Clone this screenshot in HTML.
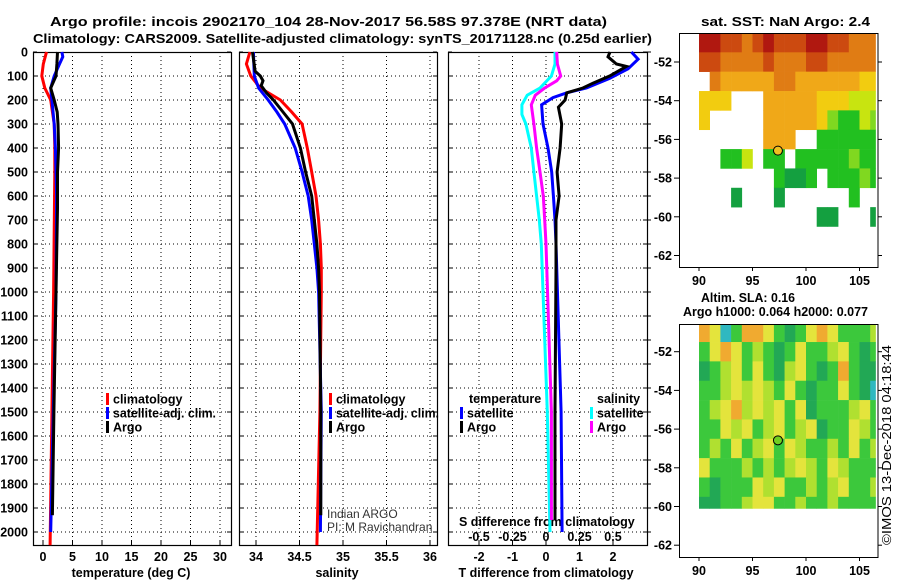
<!DOCTYPE html>
<html><head><meta charset="utf-8">
<style>
html,body{margin:0;padding:0;background:#fff;}
svg{display:block;font-family:"Liberation Sans",sans-serif;}
.b{font-weight:bold;font-size:12.5px;}
</style></head>
<body>
<svg id="c" width="900" height="580" viewBox="0 0 900 580">
<text class="b" x="50" y="26" font-size="15" textLength="557" lengthAdjust="spacingAndGlyphs">Argo profile: incois 2902170_104 28-Nov-2017 56.58S 97.378E (NRT data)</text>
<text class="b" x="33" y="43" font-size="15" textLength="619" lengthAdjust="spacingAndGlyphs">Climatology: CARS2009. Satellite-adjusted climatology: synTS_20171128.nc (0.25d earlier)</text>
<text class="b" x="701" y="26" font-size="13.5" textLength="169" lengthAdjust="spacingAndGlyphs">sat. SST: NaN Argo: 2.4</text>
<text class="b" x="701" y="302" textLength="94" lengthAdjust="spacingAndGlyphs">Altim. SLA: 0.16</text>
<text class="b" x="683" y="316" textLength="185" lengthAdjust="spacingAndGlyphs">Argo h1000: 0.064 h2000: 0.077</text>
<text x="891" y="545" font-size="13" textLength="200" lengthAdjust="spacingAndGlyphs" transform="rotate(-90 891 545)">©IMOS 13-Dec-2018 04:18:44</text>
</svg>
<script>
// ---------- data ----------
const depthTicks=[0,100,200,300,400,500,600,700,800,900,1000,1100,1200,1300,1400,1500,1600,1700,1800,1900,2000];
const tempTicks=[0,5,10,15,20,25,30];
const salTicks=[34,34.5,35,35.5,36];
const tdiffTicks=[-2,-1,0,1,2];
const sdiffTicks=[-0.5,-0.25,0,0.25,0.5];
const sdiffTickLabels=["-0.5","-0.25","0","0.25","0.5"];

const tClimDepth=[0,50,100,150,200,300,400,500,1000,1500,2055];
const tClimVal=[0.6,0.05,-0.2,0.3,1.3,1.9,2.0,2.0,1.8,1.5,1.2];
const tSatDepth=[0,20,50,100,150,200,300,400,600,1000,1500,2000];
const tSatVal=[3.2,3.35,2.8,1.9,1.3,1.5,1.9,2.1,2.3,2.2,1.75,1.3];
const tArgoDepth=[0,50,100,150,200,250,300,400,500,650,1000,1500,1930];
const tArgoVal=[2.45,2.35,2.2,1.3,1.9,2.4,2.55,2.65,2.45,2.45,2.2,1.85,1.6];

const sClimDepth=[0,50,100,150,200,250,300,400,500,600,700,800,900,1000,1500,2055];
const sClimVal=[33.93,33.89,33.94,34.05,34.28,34.41,34.53,34.59,34.64,34.69,34.72,34.74,34.75,34.75,34.735,34.70];
const sSatDepth=[0,100,150,200,250,300,400,500,600,700,800,900,1000,1500,2000];
const sSatVal=[33.97,33.98,34.03,34.14,34.24,34.33,34.45,34.53,34.60,34.64,34.67,34.70,34.72,34.75,34.74];
const sArgoDepth=[0,80,100,120,140,170,200,250,300,400,500,600,700,800,900,1000,1500,1930];
const sArgoVal=[33.96,33.99,34.05,34.08,34.06,34.12,34.20,34.31,34.42,34.51,34.57,34.64,34.67,34.70,34.72,34.73,34.745,34.745];

const dTArgoDepth=[0,20,50,60,100,130,150,170,200,230,300,400,500,600,700,900,1500,1950];
const dTArgoVal=[1.91,1.85,2.1,2.4,1.9,1.4,1.1,0.62,0.57,0.37,0.47,0.42,0.33,0.39,0.30,0.30,0.27,0.27];
const dTSatDepth=[0,30,70,110,150,170,190,220,300,400,500,600,700,800,1500,2000];
const dTSatVal=[2.55,2.75,2.45,1.9,1.21,0.62,0.21,-0.13,-0.09,0.06,0.17,0.22,0.27,0.30,0.45,0.48];
const dSArgoDepth=[0,50,100,120,150,180,220,300,400,500,600,700,800,1500,1950];
const dSArgoVal=[0.08,0.085,0.11,0.08,-0.01,-0.08,-0.11,-0.09,-0.07,-0.045,-0.02,-0.01,0,0.04,0.04];
const dSSatDepth=[0,50,100,150,180,220,260,300,400,500,600,700,800,1500,2000];
const dSSatVal=[0.067,0.067,0.04,-0.045,-0.14,-0.18,-0.18,-0.15,-0.11,-0.09,-0.07,-0.05,-0.035,0.01,0.03];

const mapLonTicks=[90,95,100,105];
const mapLatTicks=[-52,-54,-56,-58,-60,-62];
const argoLon=97.378, argoLat=-56.58;
const sstColors=["none","#b01810","#cc4a10","#e07c14","#f0a818","#f2cc10","#c8e410","#80d820","#22c020","#14a040"];
const sstRows=["11223212221122333","22333323332233333","03444443344444455","55500044444555666","50000044444578867","00000044400888888","00886088088888788","00000008998088878","00090009000000800","00000000000990009"];
const slaColors={G:"#3cc83c",D:"#22a855",L:"#b0e030",Y:"#e4e43c",O:"#f0aa30",C:"#30b8c0"};
const slaRows=["OYCGOOYGDGYOYGGGL","GYOYGLGDGYGGLYGDG","DGLYGYGDLYGDGOGDD","GGLYLYLGYGDGGYGDC","GLYOLYLYGYDGGGLYG","GGYLYGLYGLYDGGYLG","GLGYGLYGYLGGLGYGL","YGGGLGLGLYLGYLGGG","GDGGGYLYGGLGLYGGL","DDGGLYYGGLGGLGGGG"];

// ---------- helpers ----------
const svg=document.getElementById('c');
const NS="http://www.w3.org/2000/svg";
function mk(tag,attrs,parent){const e=document.createElementNS(NS,tag);for(const k in attrs)e.setAttribute(k,attrs[k]);(parent||svg).appendChild(e);return e;}
function txt(x,y,s,cls,anchor,parent){const t=mk('text',{x:x,y:y,'text-anchor':anchor||'start'},parent);if(cls)t.setAttribute('class',cls);t.textContent=s;return t;}
const TOP=52,BOT=545;
const yD=d=>TOP+d*0.24;
const xT=t=>43+t*5.9;
const xS=s=>256+(s-34)*87;
const xDT=v=>546+v*33.5;
const xDS=v=>546+v*134;
const panels=[{l:33,r:231,name:'temperature-panel'},{l:239,r:437,name:'salinity-panel'},{l:448,r:647,name:'difference-panel'}];

panels.forEach((p,i)=>{
  const g=mk('g',{});
  
  
  depthTicks.forEach(d=>{if(d>0){const ln=mk('line',{x1:p.l,x2:p.r,y1:yD(d),y2:yD(d),stroke:'#000','stroke-dasharray':'1,3','stroke-width':1},g);
    }
    mk('line',{x1:p.r-4,x2:p.r,y1:yD(d),y2:yD(d),stroke:'#000'},g);
    mk('line',{x1:p.l,x2:p.l+4,y1:yD(d),y2:yD(d),stroke:'#000'},g);});
  const ticks=i===0?tempTicks.map(xT):i===1?salTicks.map(xS):tdiffTicks.map(xDT);
  ticks.forEach(x=>{const ln=mk('line',{x1:x,x2:x,y1:TOP,y2:BOT,stroke:'#000','stroke-dasharray':'1,3'},g);
    
    mk('line',{x1:x,x2:x,y1:BOT-4,y2:BOT,stroke:'#000'},g);});
  const fr=mk('rect',{x:p.l+0.5,y:TOP+0.5,width:p.r-p.l,height:BOT-TOP,fill:'none',stroke:'#000','stroke-width':1.2},g);
  
});
depthTicks.forEach(d=>{const t=txt(28,yD(d)+4.5,String(d),'b','end');
  });
tempTicks.forEach(v=>{const t=txt(xT(v),561,String(v),'b','middle');});
salTicks.forEach(v=>{const t=txt(xS(v),561,String(v),'b','middle');});
tdiffTicks.forEach(v=>{const t=txt(xDT(v),561,String(v),'b','middle');});
sdiffTicks.forEach((v,i)=>{const t=txt(xDS(v),541,sdiffTickLabels[i],'b','middle');});
let t;
t=txt(131,577,'temperature (deg C)','b','middle');
t=txt(337,577,'salinity','b','middle');
t=txt(546,577,'T difference from climatology','b','middle');
t=txt(459,526,'S difference from climatology','b');
t=txt(327,518,'Indian ARGO');t.setAttribute('font-size','12');t.setAttribute('fill','#333');
t=txt(327,531,'PI: M Ravichandran');t.setAttribute('font-size','12');t.setAttribute('fill','#333');

function series(depths,vals,xf,color,name){
  const pts=depths.map((d,i)=>xf(vals[i]).toFixed(1)+','+yD(d).toFixed(1)).join(' ');
  const pl=mk('polyline',{points:pts,fill:'none',stroke:color,'stroke-width':3,'stroke-linejoin':'miter'});
  
  
}
series(tClimDepth,tClimVal,xT,'#ff0000','temperature-climatology-line');
series(tSatDepth,tSatVal,xT,'#0000ff','temperature-satellite-line');
series(tArgoDepth,tArgoVal,xT,'#000000','temperature-argo-line');
series(sClimDepth,sClimVal,xS,'#ff0000','salinity-climatology-line');
series(sSatDepth,sSatVal,xS,'#0000ff','salinity-satellite-line');
series(sArgoDepth,sArgoVal,xS,'#000000','salinity-argo-line');
series(dSSatDepth,dSSatVal,xDS,'#00ffff','sdiff-satellite-line');
series(dSArgoDepth,dSArgoVal,xDS,'#ff00ff','sdiff-argo-line');
series(dTSatDepth,dTSatVal,xDT,'#0000ff','tdiff-satellite-line');
series(dTArgoDepth,dTArgoVal,xDT,'#000000','tdiff-argo-line');

function legend(x,y,color,label,name,len){
  mk('rect',{x:x,y:y-6,width:3,height:12,fill:color});
  const tt=txt(x+7,y+4.5,label,'b');
  if(len){tt.setAttribute('textLength',len);tt.setAttribute('lengthAdjust','spacingAndGlyphs');}
  
  
}
legend(106,399,'#ff0000','climatology','legend-t-climatology');
legend(106,413,'#0000ff','satellite-adj. clim.','legend-t-satellite',103);
legend(106,427,'#000000','Argo','legend-t-argo');
legend(329,399,'#ff0000','climatology','legend-s-climatology');
legend(329,413,'#0000ff','satellite-adj. clim.','legend-s-satellite',103);
legend(329,427,'#000000','Argo','legend-s-argo');
t=txt(469,403,'temperature','b');
t=txt(597,403,'salinity','b');
legend(460,413,'#0000ff','satellite','legend-tdiff-satellite');
legend(460,427,'#000000','Argo','legend-tdiff-argo');
legend(590,413,'#00ffff','satellite','legend-sdiff-satellite');
legend(590,427,'#ff00ff','Argo','legend-sdiff-argo');

function drawMap(top,bottom,lat52,latMin,name,rows,colorOf,circleFill){
  const g=mk('g',{});
  
  
  const xL=lon=>699+(lon-90)*10.7;
  const yL=lat=>lat52+(-52-lat)*19.35;
  rows.forEach((row,ri)=>{
    for(let ci=0;ci<row.length;ci++){
      const c=colorOf(row[ci]);if(!c||c==='none')continue;
      const lon0=90+ci, lon1=Math.min(106.5,lon0+1);
      const lat0=-50.5-ri, lat1=Math.max(latMin,lat0-1);
      const y0=Math.max(top,yL(lat0));
      const r=mk('rect',{x:xL(lon0),y:y0,width:xL(lon1)-xL(lon0)+0.3,height:yL(lat1)-y0+0.3,fill:c},g);
      
      
    }
  });
  mk('rect',{x:679.5,y:top+0.5,width:198.5,height:bottom-top,fill:'none',stroke:'#000'},g);
  mapLatTicks.forEach(lat=>{const y=yL(lat);
    mk('line',{x1:679,x2:674,y1:y,y2:y,stroke:'#000'},g);
    mk('line',{x1:878,x2:882,y1:y,y2:y,stroke:'#000'},g);
    const tl=txt(672,y+4.5,String(lat),'b','end',g);
    });
  mapLonTicks.forEach(lon=>{const x=xL(lon);
    mk('line',{x1:x,x2:x,y1:bottom,y2:bottom+4,stroke:'#000'},g);
    const tl=txt(x,bottom+18,String(lon),'b','middle',g);
    });
  const ci=mk('circle',{cx:xL(argoLon),cy:yL(argoLat),r:4.5,fill:circleFill,stroke:'#000','stroke-width':1},g);
  
  
}
drawMap(33,267,62,-61,'sst-map',sstRows,ch=>sstColors[+ch],'#f0c020');
drawMap(324,557,351.7,-60.1,'sla-map',slaRows,ch=>slaColors[ch],'#70d020');
depthTicks.forEach(d=>mk('line',{x1:647,x2:651,y1:yD(d),y2:yD(d),stroke:'#000'}));
</script>
</body></html>
